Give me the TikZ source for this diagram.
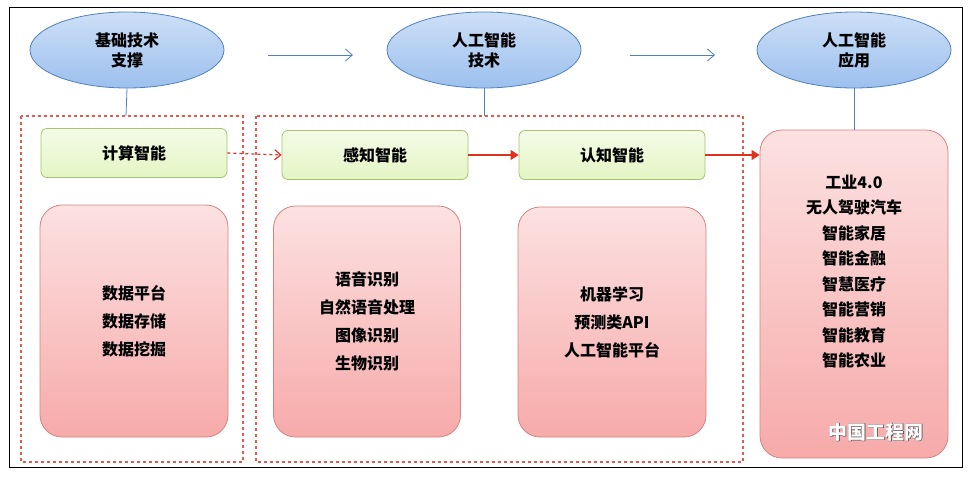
\documentclass[tikz,border=0pt]{standalone}
\usepackage{fontspec}
\setmainfont{Noto Sans CJK SC}
\usetikzlibrary{shapes.geometric,arrows.meta}
\definecolor{ellf}{HTML}{9CC0EE}
\definecolor{elld}{HTML}{4F81BD}
\definecolor{grf}{HTML}{E4F5C4}
\definecolor{grd}{HTML}{A6C36C}
\definecolor{pkf}{HTML}{F7AAAA}
\definecolor{pkd}{HTML}{C0504D}
\definecolor{rd}{HTML}{E0301E}
\tikzset{
 ell/.style={ellipse,draw=elld,thick,top color=ellf!50,bottom color=ellf,minimum width=194pt,minimum height=76pt,font=\bfseries\fontsize{16}{20}\selectfont,align=center},
 gbox/.style={rectangle,rounded corners=6pt,draw=grd,thick,top color=grf!40,bottom color=grf,minimum width=186pt,minimum height=49pt,font=\bfseries\fontsize{16}{18}\selectfont},
 pbox/.style={rectangle,rounded corners=22pt,draw=pkd!70,thick,top color=pkf!35,bottom color=pkf,font=\bfseries\fontsize{16}{28}\selectfont,align=center},
 dbox/.style={draw=rd!80,dash pattern=on 3pt off 3pt,line width=1.4pt},
 barrow/.style={draw=elld,thick,-{Straight Barb[length=7pt,width=12pt]}},
 rarrow/.style={draw=rd,very thick,-{Triangle[length=8pt,width=10pt]}},
 vline/.style={draw=elld,thick}
}
\begin{document}
\begin{tikzpicture}[x=1pt,y=-1pt]
\useasboundingbox (0,0) rectangle (976,480);
\draw[thick] (9,7) rectangle (962,467);
\draw[dbox] (21,116) rectangle (243,462);
\draw[dbox] (256,116) rectangle (743,462);
\node[ell] (e1) at (127,50) {基础技术\\支撑};
\node[ell] (e2) at (484,50) {人工智能\\技术};
\node[ell] (e3) at (854,50) {人工智能\\应用};
\coordinate (c1) at (268,55); \coordinate (c2) at (353,55);
\coordinate (c3) at (630,55); \coordinate (c4) at (715,55);
\draw[barrow] (c1) -- (c2);
\draw[barrow] (c3) -- (c4);
\coordinate (t1) at (126,116); \coordinate (t2) at (484,116);
\draw[vline] (e1.south) -- (t1);
\draw[vline] (e2.south) -- (t2);
\node[gbox] (g1) at (134,153) {计算智能};
\node[gbox] (g2) at (375,155) {感知智能};
\node[gbox] (g3) at (612,155) {认知智能};
\node[pbox,minimum width=188pt,minimum height=232pt] (p1) at (134,321) {数据平台\\数据存储\\数据挖掘};
\node[pbox,minimum width=187pt,minimum height=231pt] (p2) at (367,321.5) {语音识别\\自然语音处理\\图像识别\\生物识别};
\node[pbox,minimum width=188pt,minimum height=230pt] (p3) at (612,322) {机器学习\\预测类API\\人工智能平台};
\node[pbox,minimum width=188pt,minimum height=328pt] (p4) at (854,294) {};
\node[align=center,font=\bfseries\fontsize{16}{25.5}\selectfont,anchor=north] (l4) at (854,171) {工业4.0\\无人驾驶汽车\\智能家居\\智能金融\\智慧医疗\\智能营销\\智能教育\\智能农业};
\draw[vline] (e3.south) -- (p4.north);
\draw[rarrow,dashed,-{Straight Barb[length=6pt,width=10pt]}] (g1.east) -- (g2.west);
\draw[rarrow] (g2.east) -- (g3.west);
\draw[rarrow] (g3.east) -- (p4.west |- g3.east);
\node[text=white,font=\bfseries\fontsize{19}{22}\selectfont,draw=none] (wm) at (876,432) {\addfontfeature{FakeBold=2}\color{black!70}中国工程网};
\node[text=white,font=\bfseries\fontsize{19}{22}\selectfont] (wm2) at (876,432) {中国工程网};
\end{tikzpicture}
\end{document}
